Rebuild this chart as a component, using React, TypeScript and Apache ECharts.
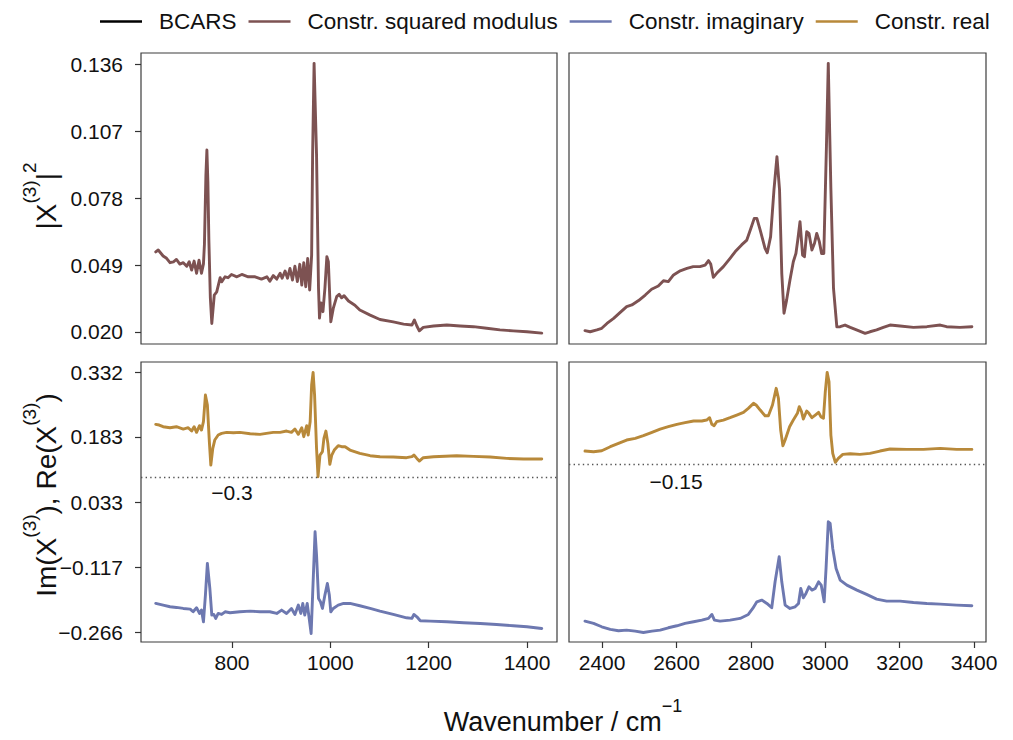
import React, { useEffect, useRef } from 'react';
import * as echarts from 'echarts';

// ---------- data (wavenumber in cm^-1, value) ----------
const seriesNames = ['BCARS', 'Constr. squared modulus', 'Constr. imaginary', 'Constr. real'];

const bcars: [number, number][] = [];

const modulusLow: [number, number][] = [
  [645, 0.0547], [650, 0.0555], [660, 0.0529], [667, 0.0519], [674, 0.05], [681, 0.0504], [687, 0.0514],
  [694, 0.0494], [701, 0.05], [708, 0.0485], [713, 0.0504], [718, 0.0468], [723, 0.0507], [728, 0.0454],
  [733, 0.0511], [738, 0.0454], [742, 0.0495], [744, 0.058], [747, 0.088], [749, 0.0988], [751, 0.085],
  [753, 0.06], [756, 0.035], [759, 0.0237], [764, 0.036], [769, 0.0374], [776, 0.0435], [779, 0.0417],
  [786, 0.0439], [792, 0.0435], [799, 0.0449], [810, 0.0439], [820, 0.0449], [833, 0.0439], [847, 0.0439],
  [860, 0.0429], [871, 0.0439], [877, 0.042], [884, 0.0444], [891, 0.0429], [898, 0.0454], [902, 0.0433],
  [908, 0.0464], [913, 0.0433], [918, 0.0475], [923, 0.0425], [928, 0.0485], [933, 0.0418], [938, 0.0493],
  [942, 0.0403], [946, 0.05], [950, 0.0396], [954, 0.0518], [958, 0.0382], [962, 0.0533], [964, 0.0966],
  [967, 0.1363], [972, 0.0966], [976, 0.0389], [978, 0.026], [981, 0.0326], [985, 0.0288], [989, 0.0389],
  [993, 0.0526], [996, 0.0505], [999, 0.0345], [1001, 0.0244], [1006, 0.0302], [1013, 0.0353], [1018, 0.0363],
  [1023, 0.0348], [1028, 0.0357], [1037, 0.0334], [1050, 0.0316], [1060, 0.0295], [1081, 0.0273], [1101, 0.0254],
  [1128, 0.0244], [1149, 0.0234], [1166, 0.023], [1171, 0.0252], [1176, 0.0226], [1181, 0.0205], [1189, 0.022],
  [1210, 0.0226], [1237, 0.023], [1264, 0.0226], [1291, 0.0223], [1318, 0.0216], [1345, 0.0209], [1372, 0.0205],
  [1400, 0.0201], [1430, 0.0195],
];

const modulusHigh: [number, number][] = [
  [2354, 0.0206], [2368, 0.0201], [2386, 0.0209], [2399, 0.0216], [2413, 0.0237], [2431, 0.0259], [2448, 0.0284],
  [2466, 0.031], [2480, 0.0317], [2498, 0.0336], [2516, 0.036], [2533, 0.0385], [2551, 0.0399], [2565, 0.0422],
  [2578, 0.0418], [2592, 0.0447], [2610, 0.0465], [2628, 0.0475], [2645, 0.0483], [2663, 0.0483], [2677, 0.049],
  [2686, 0.0509], [2692, 0.0494], [2699, 0.0437], [2708, 0.0454], [2726, 0.0483], [2744, 0.0519], [2758, 0.0548],
  [2775, 0.0577], [2789, 0.0598], [2800, 0.0649], [2809, 0.0692], [2816, 0.0692], [2825, 0.0641], [2838, 0.0562],
  [2844, 0.0543], [2853, 0.0613], [2862, 0.0815], [2870, 0.0959], [2877, 0.0815], [2883, 0.0454], [2889, 0.0281],
  [2896, 0.0338], [2905, 0.0425], [2914, 0.0504], [2921, 0.054], [2926, 0.0598], [2932, 0.0678], [2939, 0.0533],
  [2944, 0.0526], [2950, 0.0634], [2956, 0.0627], [2964, 0.0555], [2971, 0.0584], [2977, 0.0627], [2984, 0.0591],
  [2990, 0.054], [2996, 0.054], [3003, 0.1], [3008, 0.1363], [3012, 0.105], [3015, 0.082], [3022, 0.039],
  [3031, 0.0222], [3040, 0.0223], [3053, 0.023], [3067, 0.022], [3089, 0.0206], [3107, 0.0194], [3120, 0.0201],
  [3138, 0.0209], [3156, 0.022], [3174, 0.023], [3201, 0.0226], [3237, 0.022], [3273, 0.0223], [3309, 0.023],
  [3326, 0.0223], [3362, 0.022], [3394, 0.0223],
];

const realLow: [number, number][] = [
  [645, 0.2116], [652, 0.21], [660, 0.2062], [674, 0.2039], [687, 0.2062], [701, 0.2008], [711, 0.2039],
  [718, 0.1962], [723, 0.2062], [728, 0.1932], [734, 0.2085], [738, 0.1985], [742, 0.2177], [746, 0.2791],
  [750, 0.2561], [754, 0.1717], [757, 0.118], [761, 0.1563], [765, 0.1755], [772, 0.187], [779, 0.1909],
  [789, 0.1932], [803, 0.1924], [816, 0.1932], [837, 0.1901], [857, 0.1886], [870, 0.1909], [884, 0.1932],
  [898, 0.1932], [911, 0.1962], [921, 0.1932], [928, 0.2008], [935, 0.1886], [942, 0.2039], [946, 0.1832],
  [952, 0.2085], [955, 0.187], [959, 0.2177], [962, 0.3021], [965, 0.3312], [968, 0.2791], [972, 0.1563],
  [975, 0.0911], [979, 0.141], [984, 0.1487], [987, 0.1794], [991, 0.1962], [995, 0.1678], [999, 0.1195],
  [1003, 0.141], [1008, 0.1525], [1016, 0.1625], [1023, 0.1602], [1030, 0.1602], [1040, 0.1525], [1060, 0.1448],
  [1081, 0.1395], [1101, 0.1372], [1128, 0.1364], [1155, 0.1349], [1166, 0.1372], [1170, 0.141], [1176, 0.1333],
  [1181, 0.1272], [1189, 0.1349], [1210, 0.1372], [1257, 0.1395], [1291, 0.138], [1325, 0.1364], [1359, 0.1333],
  [1393, 0.1318], [1430, 0.1318],
];

const realHigh: [number, number][] = [
  [2354, 0.1502], [2377, 0.1487], [2399, 0.151], [2422, 0.1602], [2444, 0.1678], [2466, 0.1755], [2489, 0.1794],
  [2511, 0.1855], [2534, 0.1932], [2556, 0.2008], [2578, 0.2062], [2601, 0.2116], [2623, 0.2154], [2646, 0.2192],
  [2668, 0.2192], [2681, 0.2215], [2689, 0.2269], [2695, 0.2116], [2701, 0.2085], [2708, 0.2177], [2726, 0.2215],
  [2744, 0.2269], [2762, 0.233], [2780, 0.2392], [2793, 0.2484], [2807, 0.2599], [2814, 0.2561], [2825, 0.2445],
  [2838, 0.2315], [2847, 0.2315], [2858, 0.2561], [2868, 0.2944], [2874, 0.2714], [2880, 0.1985], [2886, 0.1625],
  [2892, 0.1755], [2904, 0.2062], [2914, 0.2215], [2925, 0.2369], [2930, 0.2522], [2936, 0.2407], [2941, 0.2238],
  [2950, 0.2422], [2956, 0.2369], [2964, 0.2269], [2973, 0.233], [2982, 0.2392], [2988, 0.2292], [2995, 0.2254],
  [3000, 0.2867], [3005, 0.3312], [3010, 0.3097], [3015, 0.187], [3020, 0.1448], [3027, 0.1241], [3035, 0.1333],
  [3047, 0.1425], [3067, 0.1441], [3093, 0.1425], [3120, 0.1448], [3147, 0.1502], [3174, 0.1548], [3219, 0.154],
  [3264, 0.154], [3309, 0.1563], [3353, 0.154], [3394, 0.154],
];

const imagLow: [number, number][] = [
  [645, -0.2003], [660, -0.2041], [674, -0.208], [687, -0.2095], [701, -0.2118], [715, -0.2133], [721, -0.2195],
  [728, -0.2103], [734, -0.2233], [738, -0.2156], [742, -0.2425], [746, -0.1811], [750, -0.1083], [755, -0.1658],
  [759, -0.2272], [763, -0.2256], [767, -0.2348], [772, -0.2233], [779, -0.2256], [786, -0.2195], [796, -0.2218],
  [816, -0.2195], [837, -0.218], [857, -0.2195], [877, -0.2195], [891, -0.2233], [901, -0.2156], [911, -0.2233],
  [921, -0.2118], [928, -0.2256], [935, -0.2041], [940, -0.2233], [944, -0.2003], [948, -0.2272], [953, -0.2003],
  [957, -0.2348], [961, -0.2694], [964, -0.1811], [969, -0.0354], [972, -0.0891], [976, -0.1888], [980, -0.1965],
  [984, -0.2118], [989, -0.1811], [994, -0.1543], [998, -0.1811], [1001, -0.2195], [1006, -0.2118], [1016, -0.2041],
  [1027, -0.2003], [1040, -0.2003], [1060, -0.2057], [1081, -0.2118], [1101, -0.218], [1128, -0.2256],
  [1155, -0.2333], [1166, -0.2348], [1170, -0.2256], [1176, -0.231], [1183, -0.2402], [1203, -0.2409],
  [1237, -0.2425], [1271, -0.2448], [1305, -0.2463], [1338, -0.2486], [1372, -0.2517], [1400, -0.254], [1430, -0.2578],
];

const imagHigh: [number, number][] = [
  [2354, -0.241], [2377, -0.2463], [2399, -0.254], [2422, -0.2601], [2444, -0.2632], [2466, -0.2617], [2489, -0.264],
  [2511, -0.2671], [2534, -0.264], [2556, -0.2617], [2578, -0.2563], [2601, -0.2517], [2623, -0.2463], [2646, -0.2425],
  [2668, -0.2387], [2686, -0.2348], [2695, -0.2256], [2702, -0.2387], [2717, -0.241], [2744, -0.2387], [2771, -0.2348],
  [2793, -0.2256], [2805, -0.2118], [2816, -0.1965], [2829, -0.1926], [2843, -0.2003], [2856, -0.2103], [2865, -0.1505],
  [2876, -0.0929], [2883, -0.1505], [2892, -0.2041], [2905, -0.2118], [2919, -0.208], [2928, -0.2003], [2934, -0.1658],
  [2941, -0.1873], [2948, -0.1773], [2956, -0.162], [2964, -0.1696], [2973, -0.1658], [2982, -0.1505], [2989, -0.1581],
  [2997, -0.1965], [3002, -0.1198], [3008, -0.0124], [3013, -0.0162], [3020, -0.0738], [3029, -0.1198], [3040, -0.1466],
  [3058, -0.1581], [3085, -0.1696], [3111, -0.1796], [3138, -0.1903], [3165, -0.1949], [3201, -0.1949], [3237, -0.198],
  [3273, -0.2003], [3309, -0.2018], [3353, -0.2041], [3394, -0.2057],
];

// axis ticks
const xLowTicks = [800, 1000, 1200, 1400];
const xHighTicks = [2400, 2600, 2800, 3000, 3200, 3400];
const yTopTicks = [0.02, 0.049, 0.078, 0.107, 0.136];
const yBottomTicks = [-0.266, -0.117, 0.033, 0.183, 0.332];

// dotted offset reference lines and their annotations
const offsetLevels = [0.0905, 0.1234];
const offsetLabels = ['\u22120.3', '\u22120.15'];

// ---------- styling ----------
const FONT = '"Liberation Sans", Arial, Helvetica, sans-serif';
const COLORS = {
  bcars: '#000000',
  modulus: '#7d5252',
  imag: '#6d78b0',
  real: '#b8893a',
};
const TXT = '#111111';

const fmt3 = (v: number) => v.toFixed(3).replace('-', '\u2212');

function xAxis(gridIndex: number, min: number, max: number, ticks: number[], show: boolean) {
  return {
    type: 'value',
    gridIndex,
    min,
    max,
    position: 'bottom',
    axisLine: { show: false, onZero: false },
    splitLine: { show: false },
    axisTick: { show, length: 6, customValues: ticks, lineStyle: { color: '#333', width: 1.2 } },
    axisLabel: {
      show,
      customValues: ticks,
      margin: 10,
      fontSize: 21,
      fontFamily: FONT,
      color: TXT,
      formatter: (v: number) => String(Math.round(v)),
    },
  };
}

function yAxis(gridIndex: number, min: number, max: number, ticks: number[], show: boolean) {
  return {
    type: 'value',
    gridIndex,
    min,
    max,
    position: 'left',
    axisLine: { show: false, onZero: false },
    splitLine: { show: false },
    axisTick: { show, length: 6, customValues: ticks, lineStyle: { color: '#333', width: 1.2 } },
    axisLabel: {
      show,
      customValues: ticks,
      margin: 18,
      fontSize: 21,
      fontFamily: FONT,
      color: TXT,
      formatter: (v: number) => fmt3(v),
    },
  };
}

function line(name: string, data: [number, number][], idx: number, color: string, extra: any = {}) {
  return {
    type: 'line',
    name,
    data,
    xAxisIndex: idx,
    yAxisIndex: idx,
    symbol: 'none',
    showSymbol: false,
    silent: true,
    lineStyle: { color, width: 2.9, join: 'round', cap: 'round' },
    itemStyle: { color },
    ...extra,
  };
}

function dotted(level: number) {
  return {
    silent: true,
    symbol: ['none', 'none'],
    label: { show: false },
    lineStyle: { type: [1.4, 3.2], color: '#555', width: 1.4 },
    data: [{ yAxis: level }],
  };
}

function buildOption() {
  const gridBase = { show: true, borderColor: '#3c3c3c', borderWidth: 1.2, backgroundColor: 'transparent' };
  return {
    animation: false,
    backgroundColor: '#ffffff',
    textStyle: { fontFamily: FONT },
    legend: {
      data: seriesNames,
      left: 95,
      top: 5,
      icon: 'rect',
      itemWidth: 42,
      itemHeight: 2.5,
      itemGap: 12,
      textStyle: { fontSize: 22.5, color: TXT, fontFamily: FONT, padding: [0, 0, 0, 12] },
    },
    grid: [
      { ...gridBase, left: 141, top: 53, width: 416, height: 291 },
      { ...gridBase, left: 569, top: 53, width: 417, height: 291 },
      { ...gridBase, left: 141, top: 362, width: 416, height: 280 },
      { ...gridBase, left: 569, top: 362, width: 417, height: 280 },
    ],
    xAxis: [
      xAxis(0, 615, 1461, xLowTicks, false),
      xAxis(1, 2311, 3432, xHighTicks, false),
      xAxis(2, 615, 1461, xLowTicks, true),
      xAxis(3, 2311, 3432, xHighTicks, true),
    ],
    yAxis: [
      yAxis(0, 0.0148, 0.1408, yTopTicks, true),
      yAxis(1, 0.0148, 0.1408, yTopTicks, false),
      yAxis(2, -0.289, 0.355, yBottomTicks, true),
      yAxis(3, -0.289, 0.355, yBottomTicks, false),
    ],
    series: [
      line(seriesNames[0], bcars, 0, COLORS.bcars),
      line(seriesNames[1], modulusLow, 0, COLORS.modulus),
      line(seriesNames[1], modulusHigh, 1, COLORS.modulus),
      line(seriesNames[2], imagLow, 2, COLORS.imag),
      line(seriesNames[2], imagHigh, 3, COLORS.imag),
      line(seriesNames[3], realLow, 2, COLORS.real, { markLine: dotted(offsetLevels[0]) }),
      line(seriesNames[3], realHigh, 3, COLORS.real, { markLine: dotted(offsetLevels[1]) }),
    ],
    graphic: [
      {
        type: 'text',
        x: 232,
        y: 492,
        silent: true,
        style: { text: offsetLabels[0], fontSize: 21, fontFamily: FONT, fill: TXT, align: 'center', verticalAlign: 'middle' },
      },
      {
        type: 'text',
        x: 676,
        y: 481,
        silent: true,
        style: { text: offsetLabels[1], fontSize: 21, fontFamily: FONT, fill: TXT, align: 'center', verticalAlign: 'middle' },
      },
      {
        type: 'text',
        x: 40,
        y: 196,
        rotation: Math.PI / 2,
        silent: true,
        style: {
          text: '{a||X}{s|(3)}{a||}{s|2}',
          align: 'center',
          verticalAlign: 'middle',
          fill: TXT,
          fontFamily: FONT,
          rich: {
            a: { fontSize: 28, lineHeight: 40, verticalAlign: 'bottom', fontFamily: FONT, fill: TXT },
            s: { fontSize: 19, lineHeight: 20, verticalAlign: 'top', fontFamily: FONT, fill: TXT },
          },
        },
      },
      {
        type: 'text',
        x: 40,
        y: 495,
        rotation: Math.PI / 2,
        silent: true,
        style: {
          text: '{a|Im(X}{s|(3)}{a|), Re(X}{s|(3)}{a|)}',
          align: 'center',
          verticalAlign: 'middle',
          fill: TXT,
          fontFamily: FONT,
          rich: {
            a: { fontSize: 28, lineHeight: 40, verticalAlign: 'bottom', fontFamily: FONT, fill: TXT },
            s: { fontSize: 19, lineHeight: 20, verticalAlign: 'top', fontFamily: FONT, fill: TXT },
          },
        },
      },
      {
        type: 'text',
        x: 563,
        y: 716,
        silent: true,
        style: {
          text: '{a|Wavenumber / cm}{s|\u22121}',
          align: 'center',
          verticalAlign: 'middle',
          fill: TXT,
          fontFamily: FONT,
          rich: {
            a: { fontSize: 27, lineHeight: 38, verticalAlign: 'bottom', fontFamily: FONT, fill: TXT },
            s: { fontSize: 18, lineHeight: 20, verticalAlign: 'top', fontFamily: FONT, fill: TXT },
          },
        },
      },
    ],
  };
}

export default function App() {
  const ref = useRef<HTMLDivElement>(null);
  useEffect(() => {
    if (!ref.current) return;
    const chart = echarts.init(ref.current, undefined, { renderer: 'svg' });
    chart.setOption(buildOption() as any);
    return () => chart.dispose();
  }, []);
  return (
    <div
      ref={ref}
      style={{ position: 'absolute', left: 0, top: 0, width: 1013, height: 740, background: '#fff' }}
    />
  );
}
